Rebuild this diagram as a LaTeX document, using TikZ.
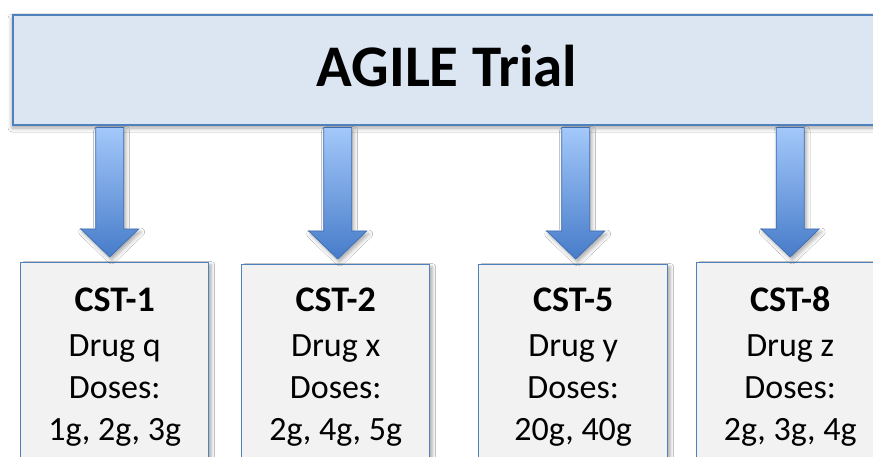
\documentclass[tikz,border=0pt]{standalone}
\usepackage{fontspec}
\setmainfont{Carlito}
\usetikzlibrary{calc,shadows.blur}

\definecolor{edgeblue}{HTML}{4F81BD}
\definecolor{topfill}{HTML}{DCE6F2}
\definecolor{cstfill}{HTML}{F2F2F2}
\definecolor{arrowtop}{HTML}{A3C8FA}
\definecolor{arrowbot}{HTML}{477CC9}
\definecolor{arrowedge}{HTML}{3D6DB3}

\tikzset{
  topbox/.style={draw=edgeblue, line width=2pt, fill=topfill, rectangle,
    inner sep=0pt, anchor=north west,
    blur shadow={shadow xshift=-1pt, shadow yshift=-3pt, shadow blur radius=4pt, shadow opacity=35}},
  cstbox/.style={draw=edgeblue, line width=1.4pt, fill=cstfill, rectangle,
    inner sep=0pt, anchor=north west, minimum height=240,
    blur shadow={shadow xshift=3pt, shadow yshift=-2pt, shadow blur radius=3pt, shadow opacity=30}},
  arrowbody/.style={top color=arrowtop, bottom color=arrowbot, draw=arrowedge,
    line width=0.7pt, line join=miter,
    blur shadow={shadow xshift=2pt, shadow yshift=-3pt, shadow blur radius=4pt, shadow opacity=35}},
  titletext/.style={font=\fontsize{59}{64}\selectfont\bfseries, anchor=base, inner sep=0pt},
  headtext/.style={font=\fontsize{36}{40}\selectfont\bfseries, anchor=base, inner sep=0pt},
  bodytext/.style={font=\fontsize{34}{40}\selectfont, anchor=base, inner sep=0pt},
}

\begin{document}
\begin{tikzpicture}[x=1pt, y=-1pt]
  \useasboundingbox (0,0) rectangle (873,457);
  \clip (0,0) rectangle (873,457);
  \fill[white] (0,0) rectangle (873,457);

  % header bar (runs off the right edge)
  \node[topbox, minimum width=900, minimum height=110] (trial) at (12,14) {};
  \node[titletext] (title) at (447,87) {AGILE Trial};

  % study boxes (run off the bottom edge)
  \node[cstbox, minimum width=188] (c1) at (20,262) {};
  \node[cstbox, minimum width=188] (c2) at (241,264) {};
  \node[cstbox, minimum width=189] (c3) at (478,264) {};
  \node[cstbox, minimum width=187] (c4) at (696,262) {};

  % box contents
  \foreach \b/\name/\drug/\doses in {
      c1/CST-1/Drug q/{1g, 2g, 3g},
      c2/CST-2/Drug x/{2g, 4g, 5g},
      c3/CST-5/Drug y/{20g, 40g},
      c4/CST-8/Drug z/{2g, 3g, 4g}} {
    \node[headtext] (\b-name)  at (\b.north |- 0,311) {\name};
    \node[bodytext] (\b-drug)  at (\b.north |- 0,356) {\drug};
    \node[bodytext] (\b-lbl)   at (\b.north |- 0,398) {Doses:};
    \node[bodytext] (\b-doses) at (\b.north |- 0,440) {\doses};
  }

  % block arrows from the header to each box
  \foreach \b/\dx in {c1/-5, c2/2, c3/2.5, c4/0} {
    \coordinate (\b-from) at ($(trial.south -| \b.north)+(\dx,1.5)$);
    \coordinate (\b-tip)  at ($(\b.north)+(\dx,-5)$);
    \path[arrowbody]
      ($(\b-from)+(-14,0)$) -- ($(\b-tip)+(-14,-28)$) -- ($(\b-tip)+(-29,-28)$)
      -- (\b-tip)
      -- ($(\b-tip)+(29,-28)$) -- ($(\b-tip)+(14,-28)$) -- ($(\b-from)+(14,0)$) -- cycle;
  }
\end{tikzpicture}
\end{document}
